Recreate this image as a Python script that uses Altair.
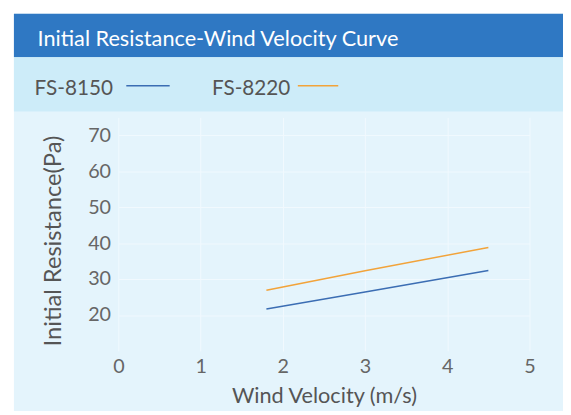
import altair as alt
import pandas as pd

# ---- data ----
series_names = ["FS-8150", "FS-8220"]
wind_velocity = [1.8, 3.0, 4.5]
fs8150 = [21.7, 26.4, 32.4]
fs8220 = [26.9, 32.3, 38.8]
x_ticks = [0, 1, 2, 3, 4, 5]
y_ticks = [20, 30, 40, 50, 60, 70]
series_colors = ["#3b6db3", "#f2a33a"]
chart_title = "Initial Resistance-Wind Velocity Curve"
x_title = "Wind Velocity (m/s)"
y_title = "Initial Resistance(Pa)"

df = pd.DataFrame({
    "v": wind_velocity * 2,
    "r": fs8150 + fs8220,
    "s": [series_names[0]] * len(wind_velocity) + [series_names[1]] * len(wind_velocity),
})
one = pd.DataFrame({"k": [0]})

FONT = "Lato"
W, H = 417, 237
TOTAL_H = 403

xs = alt.Scale(domain=[0, 5], nice=False)
ys = alt.Scale(domain=[10, 75], nice=False)

def rect(x1, x2, y1, y2, color):
    return alt.Chart(one).mark_rect(color=color).encode(
        x=alt.value(x1), x2=alt.value(x2), y=alt.value(y1), y2=alt.value(y2))

white_left = rect(-130, -106, -130, 320, "white")
white_top = rect(-130, 460, -130, -105, "white")
header = rect(-106, 460, -105, -61, "#2f78c3")
band = rect(-106, 460, -61, -6, "#cdecf9")

title = alt.Chart(one).mark_text(
    text=chart_title, font=FONT, fontSize=22, color="white", align="left", baseline="alphabetic"
).encode(x=alt.value(-82), y=alt.value(-72))

def leg_text(name, x):
    return alt.Chart(one).mark_text(
        text=name, font=FONT, fontSize=21, color="#555555", align="left", baseline="alphabetic"
    ).encode(x=alt.value(x), y=alt.value(-23))

def leg_line(color, x1, x2):
    return alt.Chart(one).mark_rule(color=color, strokeWidth=1.5).encode(
        x=alt.value(x1), x2=alt.value(x2), y=alt.value(-32))

leg1_t = leg_text(series_names[0], -85)
leg1_l = leg_line(series_colors[0], 8, 52)
leg2_t = leg_text(series_names[1], 95)
leg2_l = leg_line(series_colors[1], 182, 223)

lines = alt.Chart(df).mark_line(strokeWidth=1.5).encode(
    x=alt.X("v:Q", scale=xs, axis=alt.Axis(
        values=x_ticks, title=x_title, labelPadding=6, titlePadding=9, grid=True, labelFlush=False)),
    y=alt.Y("r:Q", scale=ys, axis=alt.Axis(
        values=y_ticks, title=y_title, labelPadding=8, titlePadding=23, titleY=125,
        titleFontSize=24, grid=True)),
    color=alt.Color("s:N", scale=alt.Scale(domain=series_names, range=series_colors), legend=None),
)

chart = alt.layer(lines, white_left, white_top, header, band, title, leg1_t, leg1_l, leg2_t, leg2_l).properties(
    width=W, height=H,
    autosize=alt.AutoSizeParams(type="none"),
    padding={"left": 112, "top": 108, "right": 34, "bottom": TOTAL_H - 108 - H},
    background="#e4f4fc",
).configure_view(stroke=None).configure_axis(
    domain=False, ticks=False,
    labelFont=FONT, labelFontSize=20, labelColor="#666666",
    titleFont=FONT, titleFontSize=22, titleColor="#555555", titleFontWeight="normal",
    gridColor="#f1f9fe", gridWidth=1,
)

chart.save("out.html", embed_options={"renderer": "svg", "actions": False})
